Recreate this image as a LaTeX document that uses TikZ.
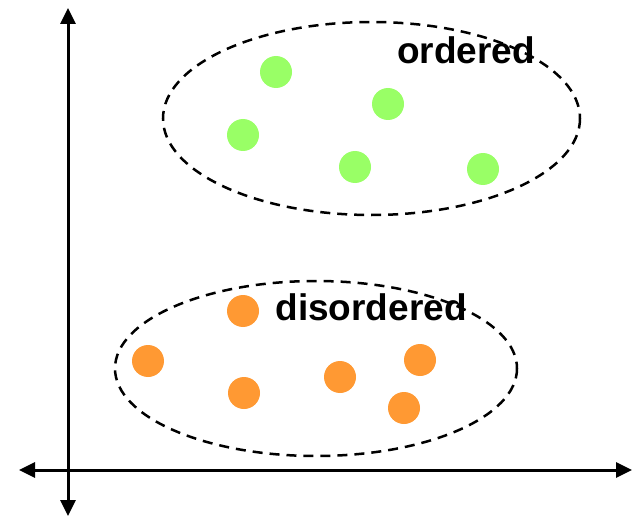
\documentclass[tikz,border=0pt]{standalone}
\usepackage{fontspec}
\setmainfont{Liberation Sans}
\usepackage{tikz}
\usetikzlibrary{arrows.meta, positioning, calc}

\definecolor{dotgreen}{RGB}{153,255,102}
\definecolor{dotorange}{RGB}{255,153,51}

\begin{document}
\begin{tikzpicture}[
  x=1pt, y=-1pt,
  every node/.style={font=\fontsize{37}{44}\selectfont\bfseries},
  greendot/.style={circle, fill=dotgreen, inner sep=0pt, minimum size=32pt},
  orangedot/.style={circle, fill=dotorange, inner sep=0pt, minimum size=32pt},
  group/.style={line width=2.5pt, dash pattern=on 10pt off 7pt},
  axis/.style={line width=3pt, {Triangle[length=16pt,width=15pt]}-{Triangle[length=16pt,width=15pt]}}
]
\useasboundingbox (0,0) rectangle (632,516);

% Axes
\coordinate (ytop) at (68,8);
\coordinate (ybot) at (68,516);
\coordinate (xleft) at (19,470);
\coordinate (xright) at (632,470);
\draw[axis] (ybot) -- (ytop);
\draw[axis] (xleft) -- (xright);

% Ordered group
\draw[group] (371.5,118.5) ellipse [x radius=208.5, y radius=96.5];
\node[greendot] (g1) at (276,72) {};
\node[greendot] (g2) at (388,104) {};
\node[greendot] (g3) at (243,135) {};
\node[greendot] (g4) at (355,167) {};
\node[greendot] (g5) at (483,169) {};
\node (ordered) at (466,50) {ordered};

% Disordered group
\draw[group] (316,368.5) ellipse [x radius=201, y radius=87.5];
\node[orangedot] (o1) at (243,311) {};
\node[orangedot] (o2) at (148,361) {};
\node[orangedot] (o3) at (244,393) {};
\node[orangedot] (o4) at (340,377) {};
\node[orangedot] (o5) at (420,360) {};
\node[orangedot] (o6) at (404,408) {};
\node (disordered) at (371,307) {disordered};

\end{tikzpicture}
\end{document}
